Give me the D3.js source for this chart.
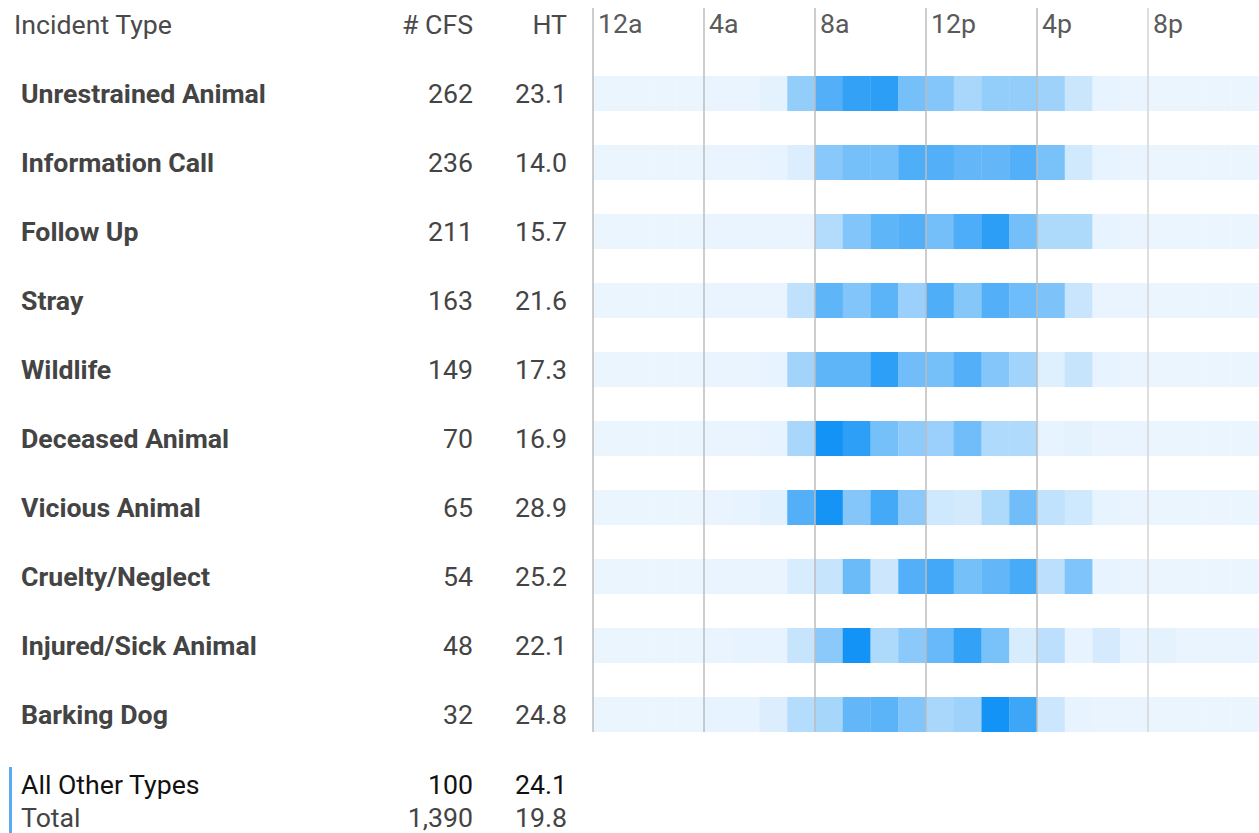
<!DOCTYPE html>
<html>
<head>
<meta charset="utf-8">
<script src="https://cdn.jsdelivr.net/npm/d3@7"></script>
<style>
  html, body { margin: 0; padding: 0; background: #fff; }
  svg { display: block; font-family: Roboto, "Noto Sans", sans-serif; }
</style>
</head>
<body>
<svg id="chart" width="1259" height="833"></svg>
<script>
// Incident types, calls for service and average handle time (minutes)
const categories = ["Unrestrained Animal", "Information Call", "Follow Up", "Stray", "Wildlife",
  "Deceased Animal", "Vicious Animal", "Cruelty/Neglect", "Injured/Sick Animal", "Barking Dog"];
const cfsCounts = [262, 236, 211, 163, 149, 70, 65, 54, 48, 32];
const handleTimes = [23.1, 14.0, 15.7, 21.6, 17.3, 16.9, 28.9, 25.2, 22.1, 24.8];

// Hour-of-day activity index (0-100), hours 0..23
const unrestrainedHours = [0,0,0,0,1,1,3,40,69,84,87,53,47,30,40,40,35,15,2,1,0,0,0,0];
const informationHours  = [0,0,0,0,1,1,2,7,45,53,53,71,69,62,62,69,52,12,2,1,0,0,0,0];
const followUpHours     = [0,0,0,0,1,1,1,1,26,48,64,69,54,72,87,54,28,28,2,1,0,0,0,0];
const strayHours        = [0,0,0,0,1,1,1,20,64,48,65,37,71,46,69,57,50,16,1,1,0,0,0,0];
const wildlifeHours     = [0,0,0,0,1,1,2,33,64,64,86,56,53,69,47,33,6,17,2,1,0,0,0,0];
const deceasedHours     = [0,0,0,0,1,1,2,30,98,86,53,42,37,56,27,27,2,3,1,1,0,0,0,0];
const viciousHours      = [0,0,0,0,1,2,4,69,97,47,76,44,13,11,28,56,19,13,2,1,0,0,0,0];
const crueltyHours      = [0,0,0,0,1,1,1,9,17,58,14,69,77,53,62,74,22,49,2,1,0,0,0,0];
const injuredHours      = [0,0,0,0,1,2,2,17,44,98,28,44,60,84,52,9,22,2,10,2,3,1,1,1];
const barkingHours      = [0,0,0,0,2,2,7,25,31,62,65,48,30,35,98,79,14,2,1,1,0,0,0,0];

// Hour tick marks
const tickHours = [0, 4, 8, 12, 16, 20];
const tickLabels = ["12a", "4a", "8a", "12p", "4p", "8p"];

// Summary lines
const summaryLabels = ["All Other Types", "Total"];
const summaryCfs = [100, 1390];
const summaryHT = [24.1, 19.8];

const hourlyRows = [unrestrainedHours, informationHours, followUpHours, strayHours, wildlifeHours,
  deceasedHours, viciousHours, crueltyHours, injuredHours, barkingHours];

const rows = categories.map((name, i) => ({
  name, cfs: cfsCounts[i], ht: handleTimes[i], hours: hourlyRows[i]
}));

const svg = d3.select("#chart");

const x = d3.scaleLinear().domain([0, 24]).range([593, 1259]);
const y = d3.scalePoint().domain(categories).range([93.5, 93.5 + 69 * 9]);
const bandH = 35;
const color = d3.scaleLinear().domain([0, 100]).range(["#ebf5fe", "#0f91f5"]).interpolate(d3.interpolateRgb);

const colCfsX = 473;
const colHtX = 567;
const labelX = 21;
const fontSize = "26.7px";
const baselineShift = 9;

// Header
const header = svg.append("g").attr("fill", "#4a4a4a").style("font-size", fontSize).style("font-weight", 400);
header.append("text").attr("x", 14).attr("y", 34).text("Incident Type");
header.append("text").attr("x", colCfsX).attr("y", 34).attr("text-anchor", "end").text("# CFS");
header.append("text").attr("x", colHtX).attr("y", 34).attr("text-anchor", "end").text("HT");

// Heat cells
const cellG = svg.append("g");
rows.forEach(r => {
  cellG.selectAll(null)
    .data(r.hours.map((v, h) => ({ h, v })))
    .join("rect")
    .attr("x", d => x(d.h))
    .attr("width", d => x(d.h + 1) - x(d.h) + 0.3)
    .attr("y", y(r.name) - bandH / 2)
    .attr("height", bandH)
    .attr("fill", d => color(d.v));
});

// Hour grid lines and labels
const grid = svg.append("g");
grid.selectAll("line")
  .data(tickHours)
  .join("line")
  .attr("x1", d => x(d)).attr("x2", d => x(d))
  .attr("y1", 8).attr("y2", 732)
  .attr("stroke", (d, i) => i === tickHours.length - 1 ? "#d4d4d4" : "#bdbdbd")
  .attr("stroke-width", 1.5);
grid.selectAll("text")
  .data(tickHours)
  .join("text")
  .attr("x", d => x(d) + 5)
  .attr("y", 33)
  .attr("fill", "#5a5a5a")
  .style("font-size", fontSize)
  .style("font-weight", 400)
  .text((d, i) => tickLabels[i]);

// Row labels and figures
const rowG = svg.append("g").style("font-size", fontSize).attr("fill", "#444");
rowG.selectAll("text.name")
  .data(rows).join("text")
  .attr("class", "name")
  .attr("x", labelX).attr("y", d => y(d.name) + baselineShift)
  .style("font-weight", 700)
  .text(d => d.name);
rowG.selectAll("text.cfs")
  .data(rows).join("text")
  .attr("class", "cfs")
  .attr("x", colCfsX).attr("y", d => y(d.name) + baselineShift)
  .attr("text-anchor", "end")
  .text(d => d3.format(",")(d.cfs));
rowG.selectAll("text.ht")
  .data(rows).join("text")
  .attr("class", "ht")
  .attr("x", colHtX).attr("y", d => y(d.name) + baselineShift)
  .attr("text-anchor", "end")
  .text(d => d3.format(".1f")(d.ht));

// Summary block
const sumY = [785, 818];
const sumColors = ["#111", "#444"];
const sumG = svg.append("g").style("font-size", fontSize).style("font-weight", 400);
sumG.append("rect").attr("x", 9).attr("y", 767).attr("width", 3).attr("height", 66).attr("fill", "#5aabf0");
summaryLabels.forEach((lab, i) => {
  sumG.append("text").attr("x", labelX).attr("y", sumY[i] + baselineShift).attr("fill", sumColors[i]).text(lab);
  sumG.append("text").attr("x", colCfsX).attr("y", sumY[i] + baselineShift).attr("text-anchor", "end")
    .attr("fill", sumColors[i]).text(d3.format(",")(summaryCfs[i]));
  sumG.append("text").attr("x", colHtX).attr("y", sumY[i] + baselineShift).attr("text-anchor", "end")
    .attr("fill", sumColors[i]).text(d3.format(".1f")(summaryHT[i]));
});
</script>
</body>
</html>
